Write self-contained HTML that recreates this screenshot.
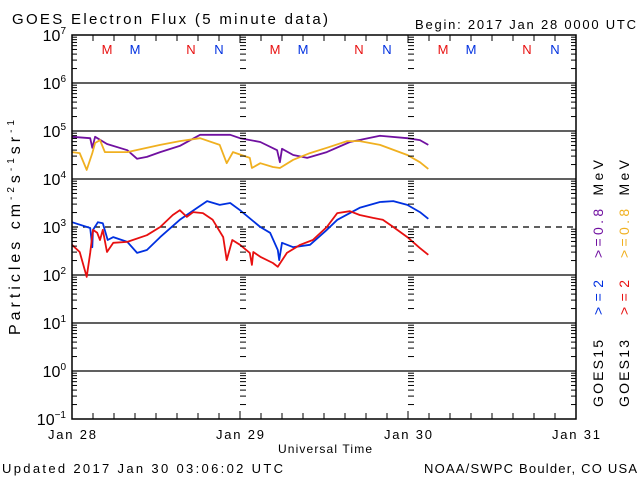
<!DOCTYPE html>
<html><head><meta charset="utf-8"><style>
body{margin:0;background:#fff;}
svg{display:block;font-family:"Liberation Sans","DejaVu Sans",sans-serif;}
</style></head><body>
<svg id="chart" width="640" height="480" viewBox="0 0 640 480" xmlns="http://www.w3.org/2000/svg">
<rect width="640" height="480" fill="#fff"/>
<text x="12" y="24" font-size="15" textLength="316" lengthAdjust="spacing">GOES Electron Flux (5 minute data)</text>
<text x="415" y="29" font-size="13" textLength="221" lengthAdjust="spacing">Begin: 2017 Jan 28 0000 UTC</text>
<text x="278" y="453" font-size="12" textLength="94" lengthAdjust="spacing">Universal Time</text>
<text x="2" y="473" font-size="13" textLength="281" lengthAdjust="spacing">Updated 2017 Jan 30 03:06:02 UTC</text>
<text x="424" y="473" font-size="13" textLength="213" lengthAdjust="spacing">NOAA/SWPC Boulder, CO USA</text>
<text transform="translate(20,335) rotate(-90)" font-size="16" textLength="215" lengthAdjust="spacing">Particles cm<tspan font-size="10" dy="-6">-2</tspan><tspan dy="6">s</tspan><tspan font-size="10" dy="-6">-1</tspan><tspan dy="6">sr</tspan><tspan font-size="10" dy="-6">-1</tspan></text>
<g font-size="14">
<text transform="translate(603,407) rotate(-90)" textLength="67" lengthAdjust="spacing">GOES15</text>
<text transform="translate(603,315) rotate(-90)" fill="#0030e0" textLength="35" lengthAdjust="spacing">&gt;=2</text>
<text transform="translate(603,258) rotate(-90)" textLength="98" lengthAdjust="spacing"><tspan fill="#7010a0">&gt;=0.8</tspan><tspan dx="10">MeV</tspan></text>
<text transform="translate(629,407) rotate(-90)" textLength="67" lengthAdjust="spacing">GOES13</text>
<text transform="translate(629,315) rotate(-90)" fill="#e81010" textLength="35" lengthAdjust="spacing">&gt;=2</text>
<text transform="translate(629,258) rotate(-90)" textLength="98" lengthAdjust="spacing"><tspan fill="#f0b020">&gt;=0.8</tspan><tspan dx="10">MeV</tspan></text>
</g>
<g id="grid"></g><g id="series"></g><g id="axes"></g>
</svg>
<script>
// hours since Jan 28 00:00 and log10 flux
const purpleT=[0,2.6,2.9,3.3,5,7.9,9.3,10.7,12.6,15.4,18.3,22.6,24,26.9,29.3,29.7,30,31.6,33.6,36.4,39.7,44,47.9,49.7,50.9];
const purpleV=[4.88,4.85,4.65,4.88,4.73,4.60,4.42,4.46,4.56,4.69,4.92,4.92,4.85,4.77,4.60,4.35,4.63,4.50,4.44,4.56,4.77,4.90,4.85,4.81,4.71];
const yellowT=[0,1.1,2.1,2.9,3.3,4,4.7,7.9,12.6,15.4,18.3,21.1,22.1,23,25.4,25.7,26.9,28.7,29.7,31.6,34,36.4,39.3,41.1,44,47.9,49.7,50.9];
const yellowV=[4.56,4.54,4.19,4.54,4.75,4.81,4.56,4.56,4.71,4.79,4.85,4.71,4.33,4.56,4.44,4.23,4.33,4.25,4.23,4.40,4.54,4.65,4.79,4.79,4.71,4.50,4.35,4.21];
const blueT=[0,2.6,2.9,3,3.7,4.4,5.1,5.9,7.9,9.3,10.7,12.6,15.4,17.9,19.3,21.1,22.6,24,26.9,28.3,29.4,29.6,30,31.6,34,36.4,37.9,39.7,41.1,44,45.9,47.9,49.7,50.9];
const blueV=[3.10,2.98,2.58,2.94,3.10,3.08,2.73,2.79,2.69,2.46,2.52,2.79,3.15,3.40,3.54,3.46,3.50,3.35,3.00,2.88,2.52,2.31,2.67,2.58,2.63,2.94,3.15,3.29,3.40,3.52,3.54,3.46,3.31,3.17];
const redT=[0,1.1,2.1,2.6,3,3.6,4,4.4,5,5.9,7.9,10.7,12.6,14.4,15.4,16.4,17.3,18.7,20.1,21.6,22.1,22.9,24,25.4,25.7,25.9,26.9,28.7,29.4,30.7,32.6,34.4,36.4,37.9,39.7,41.1,43,44.4,45.9,47.9,49.7,50.9];
const redV=[2.63,2.48,1.96,2.46,2.94,2.88,2.73,2.94,2.48,2.67,2.69,2.83,3.00,3.25,3.35,3.21,3.31,3.29,3.15,2.79,2.31,2.73,2.63,2.46,2.21,2.48,2.38,2.25,2.17,2.46,2.63,2.73,3.00,3.29,3.33,3.25,3.19,3.15,3.00,2.79,2.56,2.42];
const decades=[7,6,5,4,3,2,1,0,-1];
const dayLabels=["Jan 28","Jan 29","Jan 30","Jan 31"];
const flagLetters=["M","M","N","N"];

const L=72,R=576,T=35,B=419;
const NS="http://www.w3.org/2000/svg";
const X=h=>L+(h/72)*(R-L);
const Y=v=>T+(7-v)*(B-T)/8;
function mk(parent,tag,attrs){const e=document.createElementNS(NS,tag);for(const k in attrs)e.setAttribute(k,attrs[k]);parent.appendChild(e);return e;}
const grid=document.getElementById('grid'),axes=document.getElementById('axes'),ser=document.getElementById('series');

decades.slice(1,-1).forEach(d=>{
  const ln=mk(grid,'line',{x1:L,x2:R,y1:Y(d),y2:Y(d),stroke:'#000','stroke-width':1.3});
  if(d===3){ln.setAttribute('stroke-dasharray','6,5');}
  
  
});
const minorX=[{x:L,len:5,dir:1},{x:R,len:5,dir:-1},{x:X(24),len:6,dir:1},{x:X(48),len:6,dir:1}];
decades.slice(1).forEach(d=>{
  for(let m=2;m<=9;m++){
    const y=Y(d+Math.log10(m));
    minorX.forEach(s=>{
      const t=mk(axes,'line',{x1:s.x,x2:s.x+s.dir*s.len,y1:y,y2:y,stroke:'#000','stroke-width':1});
      
      
    });
  }
});
const fr=mk(axes,'rect',{x:L,y:T,width:R-L,height:B-T,fill:'none',stroke:'#000','stroke-width':1.5});


for(let h=0;h<=72;h+=3){
  const x=X(h);
  const tb=mk(axes,'line',{x1:x,x2:x,y1:B,y2:B-(h%24===0?8:6),stroke:'#000','stroke-width':1});
  
  
  const tt=mk(axes,'line',{x1:x,x2:x,y1:T,y2:T+(h%24===0?8:6),stroke:'#000','stroke-width':1});
  
  
}
dayLabels.forEach((s,i)=>{
  const t=mk(axes,'text',{x:X(i*24)-24,y:439,'font-size':13,textLength:48,lengthAdjust:'spacing'});
  t.textContent=s;
  
  
});
decades.forEach(d=>{
  const t=mk(axes,'text',{x:66,y:Y(d)+6,'font-size':16,'text-anchor':'end'});
  t.textContent='10';
  const sp=mk(t,'tspan',{'font-size':10,dy:-7});
  sp.textContent=String(d).replace('-','\u2212');
  
  
});
const flagOffsets=[5,9,17,21];
const flagColors=['#e81010','#0030e0','#e81010','#0030e0'];
for(let day=0;day<3;day++){
  flagLetters.forEach((c,i)=>{
    const t=mk(axes,'text',{x:X(day*24+flagOffsets[i]),y:54,'font-size':13,'text-anchor':'middle',fill:flagColors[i]});
    t.textContent=c;
    
    
  });
}
function draw(ts,vs,color,name){
  const d=ts.map((t,i)=>(i?'L':'M')+X(t).toFixed(1)+','+Y(vs[i]).toFixed(1)).join('');
  const p=mk(ser,'path',{d:d,fill:'none',stroke:color,'stroke-width':1.8,'stroke-linejoin':'round'});
  
  
}
draw(purpleT,purpleV,'#7010a0','goes15-0p8mev-line');
draw(yellowT,yellowV,'#f0b020','goes13-0p8mev-line');
draw(blueT,blueV,'#0030e0','goes15-2mev-line');
draw(redT,redV,'#e81010','goes13-2mev-line');
</script>
</body></html>
